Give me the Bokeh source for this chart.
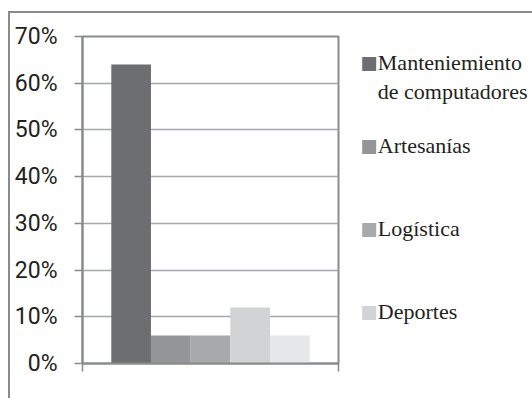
from bokeh.plotting import figure
from bokeh.layouts import row
from bokeh.models import (Range1d, FixedTicker, PrintfTickFormatter,
                          ColumnDataSource)
from bokeh.core.properties import value
from bokeh.embed import file_html
from bokeh.resources import INLINE

# Share of answers per area (percent)
legend_labels = ["Manteniemiento\nde computadores", "Artesanías", "Logística", "Deportes"]
values = [64, 6, 6, 12, 6]
colors = ["#6d6e71", "#939598", "#a7a9ac", "#d1d3d4", "#e6e7e8"]
y_ticks = [0, 10, 20, 30, 40, 50, 60, 70]

AXIS_GREY = "#8a8b8e"
GRID_GREY = "#a5a7aa"
TEXT = "#231f20"
TICK_FONT = "Roboto"
SERIF = "Liberation Serif"

W, H = 522, 385
TOP, BOTTOM = 23, 35

# ---- bar chart -------------------------------------------------------------
BAR_W = 0.155
n = len(values)
xs = [0.5 + (i - (n - 1) / 2) * BAR_W for i in range(n)]
src = ColumnDataSource(dict(x=xs, top=values, color=colors))

p = figure(width=340, height=H, x_range=Range1d(0, 1), y_range=Range1d(0, 70),
           output_backend="svg", toolbar_location=None,
           min_border_left=72, min_border_right=12, min_border_top=TOP,
           min_border_bottom=BOTTOM)

bars = p.vbar(x="x", top="top", width=BAR_W, fill_color="color",
              line_color=None, source=src)

p.yaxis.ticker = FixedTicker(ticks=y_ticks)
p.yaxis.formatter = PrintfTickFormatter(format="%d%%")
p.yaxis.major_tick_out = 8
p.yaxis.major_tick_in = 0
p.yaxis.minor_tick_line_color = None
p.yaxis.axis_line_color = AXIS_GREY
p.yaxis.axis_line_width = 2
p.yaxis.major_tick_line_color = AXIS_GREY
p.yaxis.major_tick_line_width = 1.5
p.yaxis.major_label_text_font = TICK_FONT
p.yaxis.major_label_text_font_size = "23px"
p.yaxis.major_label_text_color = TEXT
p.yaxis.major_label_standoff = 17

# one category on x: ticks only on its two edges, no labels
p.xaxis.ticker = FixedTicker(ticks=[0, 1])
p.xaxis.major_label_overrides = {0: "", 1: ""}
p.xaxis.major_tick_out = 8
p.xaxis.major_tick_in = 0
p.xaxis.minor_tick_line_color = None
p.xaxis.axis_line_color = AXIS_GREY
p.xaxis.axis_line_width = 2
p.xaxis.major_tick_line_color = AXIS_GREY
p.xaxis.major_tick_line_width = 1.5

p.xgrid.visible = False
p.ygrid.ticker = FixedTicker(ticks=y_ticks)
p.ygrid.grid_line_color = GRID_GREY
p.ygrid.grid_line_width = 1.5
p.outline_line_color = AXIS_GREY
p.outline_line_width = 2
p.background_fill_color = "white"
p.border_fill_color = "white"

# ---- legend panel: pixel-scaled, y grows downward, frame aligned with p ----
LW = W - 340
key = figure(width=LW, height=H, x_range=Range1d(0, LW),
             y_range=Range1d(H - BOTTOM, TOP),
             output_backend="svg", toolbar_location=None,
             x_axis_location=None, y_axis_location=None,
             min_border_left=0, min_border_right=0,
             min_border_top=TOP, min_border_bottom=BOTTOM)
key.grid.visible = False
key.outline_line_color = None
key.background_fill_color = "white"
key.border_fill_color = "white"

FIRST, PITCH, SQ, LINE_H = 50.5, 83, 14, 29
sq_y = [FIRST + i * PITCH for i in range(len(legend_labels))]
key.rect(x=[18.7] * len(sq_y), y=sq_y, width=SQ, height=SQ,
         fill_color=colors[:len(legend_labels)], line_color=None)

tx, ty, tt = [], [], []
for yc, lab in zip(sq_y, legend_labels):
    for j, line in enumerate(lab.split("\n")):
        tx.append(27.3)
        ty.append(yc - 2 + j * LINE_H)
        tt.append(line)
key.text(x=tx, y=ty, text=tt, text_font=value(SERIF), text_font_size="22px",
         text_color=TEXT, text_baseline="middle", text_align="left")

layout = row(p, key, spacing=0)
layout.styles = {"margin-left": "8px", "margin-top": "11px",
                 "border-left": f"2px solid {AXIS_GREY}",
                 "border-top": f"2px solid {AXIS_GREY}"}

open("out.html", "w").write(file_html(layout, INLINE))
